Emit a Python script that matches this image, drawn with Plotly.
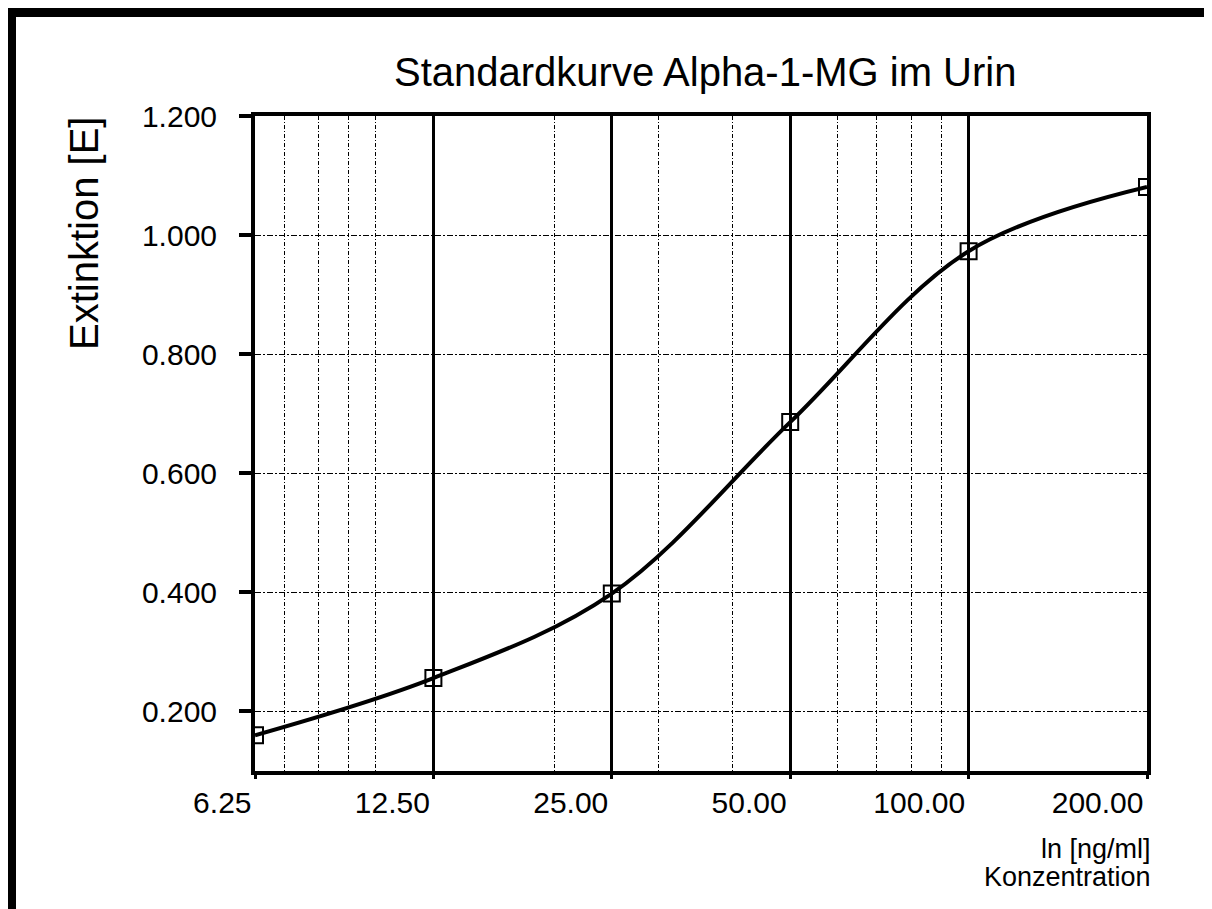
import numpy as np
import plotly.graph_objects as go

# ---- data ----
conc = [6.25, 12.5, 25, 50, 100, 200]
ext = [0.160, 0.256, 0.398, 0.686, 0.973, 1.081]
x_tickvals = [6.25, 12.5, 25, 50, 100, 200]
x_ticktext = ["6.25", "12.50", "25.00", "50.00", "100.00", "200.00"]
x_minorvals = [7, 8, 9, 10, 20, 30, 40, 60, 70, 80, 90]
y_tickvals = [0.2, 0.4, 0.6, 0.8, 1.0, 1.2]
y_ticktext = ["0.200", "0.400", "0.600", "0.800", "1.000", "1.200"]

title_text = "Standardkurve Alpha-1-MG im Urin"
y_title = "Extinktion [E]"
x_title1 = "ln [ng/ml]"
x_title2 = "Konzentration"

OFF = 8  # page body margin
W, H = 1212, 909
# plot area in window pixels: x 255..1147, y 116..771
L, T = 255 - OFF, 116 - OFF
R, B = W - (1147 - OFF), H - (771 - OFF)
PW, PH = W - L - R, H - T - B
FONT = "Arial, Liberation Sans, sans-serif"


def px(xw):
    return (xw - OFF - L) / PW


def py(yw):
    return (H - B - (yw - OFF)) / PH


fig = go.Figure()
fig.add_trace(go.Scatter(
    x=conc, y=ext, mode="lines+markers",
    line=dict(color="black", width=4, shape="spline", smoothing=1.0),
    marker=dict(symbol="square-open", size=16, color="black",
                line=dict(color="black", width=2)),
    showlegend=False, hoverinfo="x+y",
))

fig.update_layout(
    width=W, height=H,
    margin=dict(l=L, r=R, t=T, b=B, pad=0),
    paper_bgcolor="white", plot_bgcolor="white",
    font=dict(family=FONT, color="black", size=30),
    showlegend=False,
)

fig.update_xaxes(
    type="log",
    range=[np.log10(x_tickvals[0]), np.log10(x_tickvals[-1])],
    tickmode="array", tickvals=x_tickvals, ticktext=x_ticktext,
    ticklabelposition="outside left",
    ticks="outside", ticklen=4, tickwidth=3, tickcolor="black",
    ticklabelstandoff=2,
    tickfont=dict(size=30, family=FONT, color="black"),
    showgrid=True, gridcolor="black", gridwidth=3,
    showline=True, linecolor="black", linewidth=4, mirror=True,
    zeroline=False,
    minor=dict(tickmode="array", tickvals=x_minorvals, showgrid=True,
               gridcolor="black", gridwidth=1, griddash="4px,2px,1px,2px",
               ticks=""),
)

fig.update_yaxes(
    range=[0.1, 1.2001],
    tickmode="array", tickvals=y_tickvals, ticktext=y_ticktext,
    ticks="outside", ticklen=12, tickwidth=4, tickcolor="black",
    ticklabelstandoff=16,
    tickfont=dict(size=30, family=FONT, color="black"),
    showgrid=True, gridcolor="black", gridwidth=1,
    griddash="6px,2px,2px,2px",
    showline=True, linecolor="black", linewidth=4, mirror=True,
    zeroline=False,
)

# outer frame
fig.add_shape(type="rect", xref="paper", yref="paper",
              x0=px(11.5), x1=px(1210.5), y0=py(940), y1=py(12.5),
              line=dict(color="black", width=9), fillcolor="rgba(0,0,0,0)",
              layer="above")

# title
fig.add_annotation(text=title_text, xref="paper", yref="paper",
                   x=px(705), y=py(72), xanchor="center", yanchor="middle",
                   showarrow=False, font=dict(size=40, family=FONT, color="black"))
# y title
fig.add_annotation(text=y_title, xref="paper", yref="paper",
                   x=px(84), y=py(234), xanchor="center", yanchor="middle",
                   textangle=-90, showarrow=False,
                   font=dict(size=40, family=FONT, color="black"))
# x title (two lines, right aligned)
fig.add_annotation(text=x_title1, xref="paper", yref="paper",
                   x=px(1153), y=py(849), xanchor="right", yanchor="middle",
                   showarrow=False, font=dict(size=27, family=FONT, color="black"))
fig.add_annotation(text=x_title2, xref="paper", yref="paper",
                   x=px(1153), y=py(877), xanchor="right", yanchor="middle",
                   showarrow=False, font=dict(size=27, family=FONT, color="black"))

fig.write_html("out.html")
